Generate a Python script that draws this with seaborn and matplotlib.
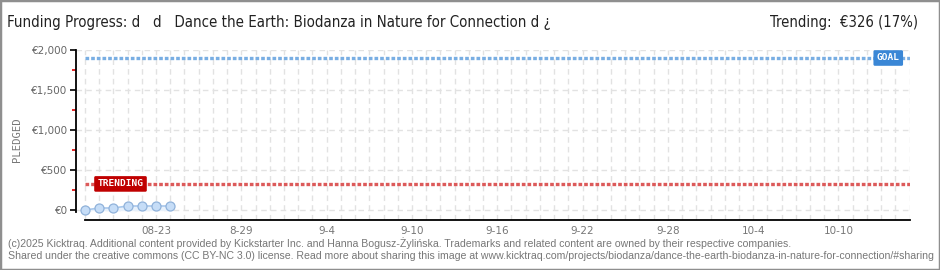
import matplotlib
matplotlib.use("Agg")
import matplotlib.pyplot as plt
import seaborn as sns
import pandas as pd
from matplotlib.patches import Rectangle

# ---- data ----
days = [0, 1, 2, 3, 4, 5, 6]
pledged = [0, 25, 25, 50, 50, 50, 50]
goal = 1900
trending = 326
n_days = 59
tick_days = [5, 11, 17, 23, 29, 35, 41, 47, 53]
tick_labels = ["08-23", "8-29", "9-4", "9-10", "9-16", "9-22", "9-28", "10-4", "10-10"]
y_ticks = [0, 500, 1000, 1500, 2000]
y_minor = [250, 750, 1250, 1750]
y_tick_labels = ["€0", "€500", "€1,000", "€1,500", "€2,000"]
title = "Funding Progress: d   d   Dance the Earth: Biodanza in Nature for Connection d ¿"
trend_text = "Trending:  €326 (17%)"
footer1 = ("(c)2025 Kicktraq. Additional content provided by Kickstarter Inc. and Hanna Bogusz-Żylińska. "
           "Trademarks and related content are owned by their respective companies.")
footer2 = ("Shared under the creative commons (CC BY-NC 3.0) license. Read more about sharing this image at "
           "www.kicktraq.com/projects/biodanza/dance-the-earth-biodanza-in-nature-for-connection/#sharing")

df = pd.DataFrame({"day": days, "pledged": pledged})

sns.set_theme(style="white")
plt.rcParams["font.family"] = ["DejaVu Sans"]

W, H = 940, 270
fig = plt.figure(figsize=(W / 100, H / 100), dpi=100)
fig.patch.set_facecolor("white")
ax = fig.add_axes([76 / W, 50 / H, (910 - 76) / W, 170 / H])
ax.set_facecolor("white")

ax.set_xlim(-0.63, n_days - 1 + 0.03)
ax.set_ylim(-125, 2000)

# grid
ax.set_xticks(range(n_days), minor=True)
ax.set_xticks(tick_days)
ax.set_xticklabels(tick_labels)
ax.set_yticks(y_ticks)
ax.set_yticklabels(y_tick_labels)
ax.set_yticks(y_minor, minor=True)
ax.grid(False)
ax.grid(which="both", axis="x", color="#e2e2e2", lw=1, dashes=(4, 3))
ax.grid(which="major", axis="y", color="#e2e2e2", lw=1, dashes=(4, 3))
ax.set_axisbelow(True)

# goal and trending lines
ax.hlines(goal, 0, n_days - 1, color="#79aee3", lw=2.4, linestyles=(0, (1.1, 0.6)), zorder=2)
ax.hlines(trending, 0, n_days - 1, color="#dc5a5a", lw=2.4, linestyles=(0, (1.1, 0.6)), zorder=2)

ax.text(56.5, goal, "GOAL", ha="center", va="center", color="white", fontsize=6.8,
        family="DejaVu Sans Mono", fontweight="bold",
        bbox=dict(boxstyle="round,pad=0.35,rounding_size=0.15", fc="#3a87d6", ec="none"), zorder=4)
ax.text(2.5, trending, "TRENDING", ha="center", va="center", color="white", fontsize=6.8,
        family="DejaVu Sans Mono", fontweight="bold",
        bbox=dict(boxstyle="round,pad=0.35,rounding_size=0.15", fc="#c00000", ec="none"), zorder=4)

# data
ax.fill_between(df["day"], df["pledged"], 0, color="#e8f1fb", zorder=2)
sns.lineplot(data=df, x="day", y="pledged", ax=ax, color="#a9c8ec", lw=1.2,
             marker="o", markersize=6.5, markerfacecolor="#c6ddf7",
             markeredgecolor="#90b2da", markeredgewidth=0.9, zorder=3)
ax.set_xlabel("")
ax.set_ylabel("PLEDGED", family="DejaVu Sans Mono", fontsize=7.6, color="#777777")
ax.yaxis.set_label_coords((22 - 76) / (910 - 76), (210 - 130) / 170)

# spines
for s in ["top", "right"]:
    ax.spines[s].set_visible(False)
ax.spines["left"].set_bounds(-25, 2000)
ax.spines["bottom"].set_bounds(0, n_days - 1)
for s in ["left", "bottom"]:
    ax.spines[s].set_color("black")
    ax.spines[s].set_linewidth(1.3)

ax.tick_params(axis="x", which="both", direction="inout", length=7, width=1.2, color="black",
               labelsize=7.5, labelcolor="#777777", pad=1)
ax.tick_params(axis="y", which="major", direction="out", length=4, width=1.2, color="black",
               labelsize=7.5, labelcolor="#666666", pad=2, left=True)
ax.tick_params(axis="y", which="minor", direction="out", length=3, width=1.2, color="#e00000", left=True)

# texts
fig.text(7 / W, 1 - 22 / H, title, ha="left", va="center", fontsize=10.85, color="#222222",
         family="DejaVu Sans", fontstretch="condensed")
fig.text(918 / W, 1 - 22 / H, trend_text, ha="right", va="center", fontsize=10.6, color="#222222",
         family="DejaVu Sans", fontstretch="condensed")
fig.text(8 / W, 1 - 243 / H, footer1, ha="left", va="center", fontsize=7.6, color="#777777",
         family=["Liberation Sans", "DejaVu Sans"])
fig.text(8 / W, 1 - 256 / H, footer2, ha="left", va="center", fontsize=7.6, color="#777777",
         family=["Liberation Sans", "DejaVu Sans"])

fig.patches.append(Rectangle((0, 0), 1, 1, transform=fig.transFigure, fill=False,
                             ec="#8f8f8f", lw=2.5, zorder=10))

fig.savefig("out.png", dpi=100, facecolor="white")
